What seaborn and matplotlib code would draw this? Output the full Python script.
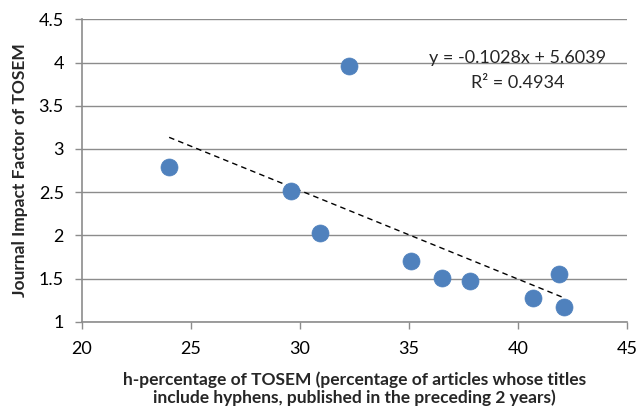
import numpy as np
import pandas as pd
import matplotlib
matplotlib.use("Agg")
import matplotlib.pyplot as plt
import seaborn as sns

h_percentage = [24.0, 29.6, 30.9, 32.25, 35.1, 36.5, 37.8, 40.7, 41.9, 42.1]
impact_factor = [2.79, 2.515, 2.03, 3.96, 1.70, 1.51, 1.475, 1.275, 1.553, 1.175]
x_ticks = [20, 25, 30, 35, 40, 45]
y_ticks = [1, 1.5, 2, 2.5, 3, 3.5, 4, 4.5]
y_tick_labels = ["1", "1.5", "2", "2.5", "3", "3.5", "4", "4.5"]
equation_text = "y = -0.1028x + 5.6039"
r2_text = "R\u00b2 = 0.4934"
x_label = "h-percentage of TOSEM (percentage of articles whose titles\ninclude hyphens, published in the preceding 2 years)"
y_label = "Journal Impact Factor of TOSEM"

sns.set_theme(style="white")
plt.rcParams['font.family'] = ['Lato', 'DejaVu Sans']

df = pd.DataFrame({"h": h_percentage, "jif": impact_factor})

fig = plt.figure(figsize=(6.38, 4.11), dpi=100)
ax = fig.add_axes([0.1285, 0.217, 0.854, 0.736])

grid_c = "#8c8c8c"
for yv in y_ticks:
    ax.axhline(yv, color=grid_c, lw=1.0, zorder=0)

# trendline from least squares fit
slope, intercept = np.polyfit(df["h"], df["jif"], 1)
xs = np.array([df["h"].min(), df["h"].max()])
ax.plot(xs, slope * xs + intercept, color="black", lw=1.0, ls=(0, (4, 3)), zorder=2)

sns.scatterplot(data=df, x="h", y="jif", ax=ax, s=150, color="#4F81BD",
                edgecolor="#4F81BD", linewidth=0.5, zorder=3, legend=False)

ax.set_xlim(20, 45)
ax.set_ylim(1, 4.5)
ax.set_xticks(x_ticks)
ax.set_xticklabels([str(t) for t in x_ticks])
ax.set_yticks(y_ticks)
ax.set_yticklabels(y_tick_labels)
ax.tick_params(axis="both", labelsize=13, colors="black", length=5, width=1.0,
               direction="out", bottom=True, left=True)
ax.tick_params(axis="x", color=grid_c, pad=9)
ax.tick_params(axis="y", color=grid_c, pad=8)

for s in ["top", "right"]:
    ax.spines[s].set_visible(False)
for s in ["left", "bottom"]:
    ax.spines[s].set_color(grid_c)
    ax.spines[s].set_linewidth(1.2)

ax.set_xlabel(x_label, fontsize=12.5, fontweight="bold", labelpad=10, linespacing=1.15)
ax.set_ylabel(y_label, fontsize=12.5, fontweight="bold", labelpad=8)

ax.text(40.0, 4.05, equation_text, fontsize=13, ha="center", va="center")
ax.text(40.0, 3.76, r2_text, fontsize=13, ha="center", va="center")

fig.savefig("out.png", dpi=100)
